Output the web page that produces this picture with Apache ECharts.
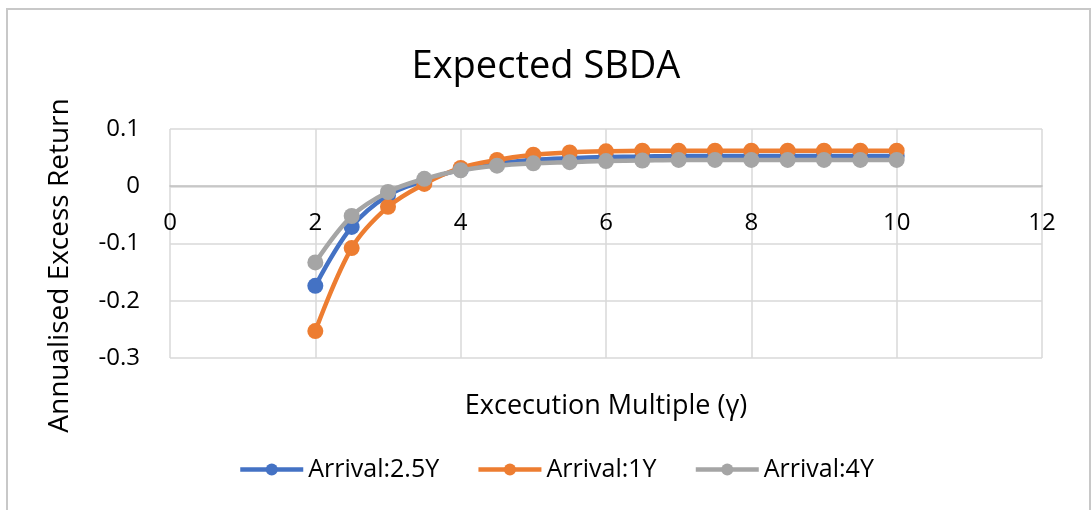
<!DOCTYPE html>
<html>
<head>
<meta charset="utf-8">
<script src="https://cdn.jsdelivr.net/npm/echarts@6/dist/echarts.min.js"></script>
<style>
html,body{margin:0;padding:0;background:#fff;}
#c{width:1092px;height:510px;}
</style>
</head>
<body>
<div id="c"></div>
<script>
const multiples = [2, 2.5, 3, 3.5, 4, 4.5, 5, 5.5, 6, 6.5, 7, 7.5, 8, 8.5, 9, 9.5, 10];
const arrival25Y = [-0.174, -0.071, -0.016, 0.010, 0.029, 0.040, 0.046, 0.049, 0.051, 0.052, 0.053, 0.053, 0.053, 0.053, 0.053, 0.053, 0.053];
const arrival1Y  = [-0.253, -0.108, -0.036, 0.004, 0.032, 0.046, 0.055, 0.059, 0.061, 0.062, 0.062, 0.062, 0.062, 0.062, 0.062, 0.062, 0.062];
const arrival4Y  = [-0.133, -0.052, -0.010, 0.013, 0.028, 0.036, 0.040, 0.042, 0.044, 0.045, 0.046, 0.046, 0.046, 0.046, 0.046, 0.046, 0.046];
const seriesNames = ['Arrival:2.5Y', 'Arrival:1Y', 'Arrival:4Y'];
const seriesColors = ['#4472C4', '#ED7D31', '#A5A5A5'];
const seriesValues = [arrival25Y, arrival1Y, arrival4Y];

const font = '"Open Sans", "Noto Sans", sans-serif';
const chart = echarts.init(document.getElementById('c'));
const series = seriesValues.map((vals, i) => ({
  name: seriesNames[i],
  type: 'line',
  data: multiples.map((x, j) => [x, vals[j]]),
  smooth: 0.35,
  symbol: 'circle',
  symbolSize: 16,
  lineStyle: { width: 4.5, color: seriesColors[i] },
  itemStyle: { color: seriesColors[i] },
  z: 2 + i
}));

chart.setOption({
  animation: false,
  backgroundColor: '#fff',
  color: seriesColors,
  title: {
    text: 'Expected SBDA',
    left: 'center',
    top: 43,
    textStyle: { fontFamily: font, fontSize: 38, fontWeight: 'normal', color: '#000' }
  },
  grid: { left: 170, right: 50, top: 129, bottom: 152, containLabel: false, outerBoundsMode: 'none' },
  legend: {
    left: 233,
    top: 452,
    itemWidth: 63,
    itemHeight: 15,
    itemGap: 37,
    lineStyle: { width: 4.5 },
    textStyle: { fontFamily: font, fontSize: 25, color: '#000' },
    data: seriesNames
  },
  xAxis: {
    type: 'value',
    min: 0, max: 12, interval: 2,
    offset: -172,
    name: 'Excecution Multiple (γ)',
    nameLocation: 'middle',
    nameGap: 207,
    nameTextStyle: { fontFamily: font, fontSize: 27, color: '#000' },
    axisLine: { onZero: false, lineStyle: { color: '#bfbfbf', width: 1.5 } },
    axisTick: { show: false },
    axisLabel: { fontFamily: font, fontSize: 24, color: '#000', margin: 25 },
    splitLine: { show: true, lineStyle: { color: '#d9d9d9', width: 1.5 } }
  },
  yAxis: {
    type: 'value',
    min: -0.3, max: 0.1, interval: 0.1,
    name: 'Annualised Excess Return',
    nameLocation: 'middle',
    nameRotate: 90,
    nameGap: 96,
    nameTextStyle: { fontFamily: font, fontSize: 28, color: '#000', padding: [0, 44, 0, 0] },
    axisLine: { show: false },
    axisTick: { show: false },
    axisLabel: {
      fontFamily: font, fontSize: 24, color: '#000', margin: 30,
      formatter: v => String(+(+v).toFixed(1))
    },
    splitLine: { show: true, lineStyle: { color: '#d9d9d9', width: 1.5 } }
  },
  graphic: [{
    type: 'rect',
    shape: { x: 7, y: 9, width: 1083, height: 540 },
    style: { fill: 'none', stroke: '#c8c8c8', lineWidth: 2 },
    silent: true
  }],
  series: series
});
</script>
</body>
</html>
